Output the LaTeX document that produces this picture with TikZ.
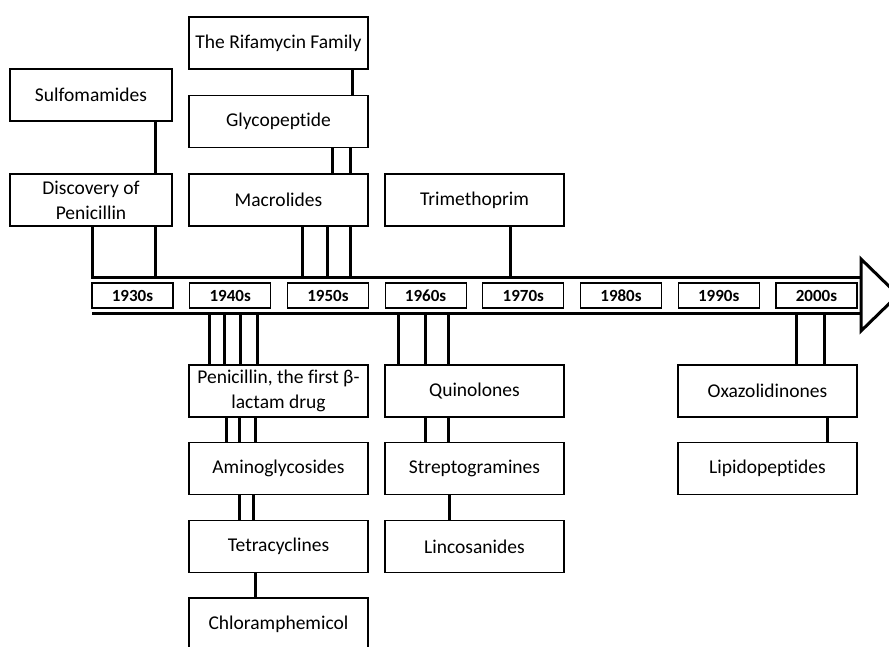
\documentclass[tikz,border=0pt]{standalone}
\usepackage{fontspec}
\setmainfont{Carlito}[Ligatures=CommonOff]
\usetikzlibrary{positioning}

\begin{document}
\begin{tikzpicture}[x=1pt,y=-1pt,drug/.style={draw,line width=1.8pt,minimum width=179pt,minimum height=52pt,inner sep=2pt,align=center,font=\fontsize{19.5}{25}\selectfont}, sdrug/.style={drug,minimum width=162pt}, decade/.style={draw,line width=1.2pt,minimum width=81pt,minimum height=25pt,inner sep=0pt,font=\fontsize{17}{20}\selectfont\bfseries}, link/.style={line width=3pt}]
	\useasboundingbox (0,0) rectangle (889,646);
	
	% above the time line
	\node[sdrug] (sulfo) at (91,95) {Sulfomamides};
	\node[sdrug] (disc) at (91,200) {Discovery of\\Penicillin};
	\node[drug] (rifa) at (278.5,43) {The Rifamycin Family};
	\node[drug] (glyco) at (278.5,121.5) {Glycopeptide};
	\node[drug] (macro) at (278.5,200) {Macrolides};
	\node[drug] (trim) at (474.5,200) {Trimethoprim};
	
	% below the time line
	\node[drug] (pen) at (278.5,391) {Penicillin, the first β-\\lactam drug};
	\node[drug] (amino) at (278.5,468.5) {Aminoglycosides};
	\node[drug] (tetra) at (278.5,546.5) {Tetracyclines};
	\node[drug] (chloro) at (278.5,624) {Chloramphemicol};
	\node[drug] (quin) at (474.5,391) {Quinolones};
	\node[drug] (strep) at (474.5,468.5) {Streptogramines};
	\node[drug] (linco) at (474.5,546.5) {Lincosanides};
	\node[drug] (oxa) at (767.5,391) {Oxazolidinones};
	\node[drug] (lipid) at (767.5,468.5) {Lipidopeptides};
	
	% time line
	\coordinate (up) at (92,277);
	\coordinate (lo) at (92,313);
	\coordinate (upend) at (861,277);
	\coordinate (loend) at (861,313);
	\draw[link] (92,0 |- disc.south) -- (up) -- (upend);
	\draw[link] (lo) -- (loend);
	\draw[link,fill=white] (861,259) -- (898,295) -- (861,331) -- cycle;
	\foreach \d [count=\i from 0] in {1930s,1940s,1950s,1960s,1970s,1980s,1990s,2000s}
		\node[decade] (d\i) at (132.5+97.7*\i,295.5) {\d};
	
	\draw[link] (155,0 |- sulfo.south) -- (155,0 |- disc.north);
	\draw[link] (155,0 |- disc.south) -- (155,0 |- up);
	\draw[link] (352,0 |- rifa.south) -- (352,0 |- glyco.north);
	\foreach \x in {332,350}
		\draw[link] (\x,0 |- glyco.south) -- (\x,0 |- macro.north);
	\foreach \x in {302,327,350}
		\draw[link] (\x,0 |- macro.south) -- (\x,0 |- up);
	\draw[link] (510,0 |- trim.south) -- (510,0 |- up);
	
	\foreach \x in {209,224,240,257}
		\draw[link] (\x,0 |- lo) -- (\x,0 |- pen.north);
	\foreach \x in {226,239,255}
		\draw[link] (\x,0 |- pen.south) -- (\x,0 |- amino.north);
	\foreach \x in {239,253}
		\draw[link] (\x,0 |- amino.south) -- (\x,0 |- tetra.north);
	\draw[link] (255,0 |- tetra.south) -- (255,0 |- chloro.north);
	\foreach \x in {398,425,448}
		\draw[link] (\x,0 |- lo) -- (\x,0 |- quin.north);
	\foreach \x in {425,448}
		\draw[link] (\x,0 |- quin.south) -- (\x,0 |- strep.north);
	\draw[link] (449,0 |- strep.south) -- (449,0 |- linco.north);
	\foreach \x in {796,824}
		\draw[link] (\x,0 |- lo) -- (\x,0 |- oxa.north);
	\draw[link] (827,0 |- oxa.south) -- (827,0 |- lipid.north);
\end{tikzpicture}
\end{document}
